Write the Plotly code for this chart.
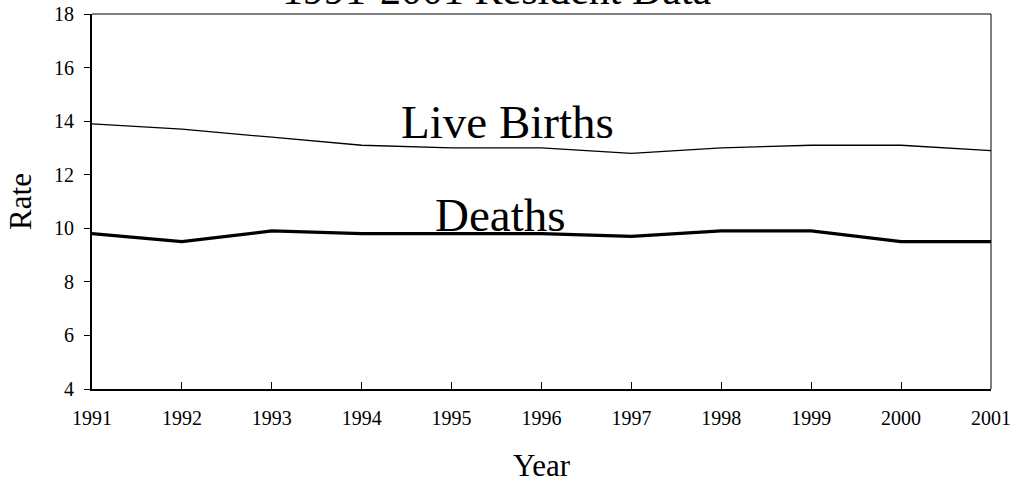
import plotly.graph_objects as go

years = [1991, 1992, 1993, 1994, 1995, 1996, 1997, 1998, 1999, 2000, 2001]
live_births = [13.9, 13.7, 13.4, 13.1, 13.0, 13.0, 12.8, 13.0, 13.1, 13.1, 12.9]
deaths = [9.8, 9.5, 9.9, 9.8, 9.8, 9.8, 9.7, 9.9, 9.9, 9.5, 9.5]
y_ticks = [4, 6, 8, 10, 12, 14, 16, 18]

FONT = "Liberation Serif, Times New Roman, serif"

fig = go.Figure()
fig.add_trace(go.Scatter(x=years, y=live_births, mode="lines", name="Live Births",
                         line=dict(color="black", width=1.3)))
fig.add_trace(go.Scatter(x=years, y=deaths, mode="lines", name="Deaths",
                         line=dict(color="black", width=3.2)))

fig.update_layout(
    width=1016, height=483,
    margin=dict(l=92, r=25, t=14, b=94, autoexpand=False),
    paper_bgcolor="white", plot_bgcolor="white",
    showlegend=False,
    font=dict(family=FONT, color="black", size=20),
    xaxis=dict(
        range=[1991, 2001], tickvals=years, ticktext=[str(y) for y in years],
        showgrid=False, zeroline=False, automargin=False,
        showline=True, linecolor="black", linewidth=2,
        ticks="inside", ticklen=7, tickwidth=1, tickcolor="black",
        tickfont=dict(family=FONT, size=20, color="black"),
        ticklabelstandoff=10,
        title=dict(text="Year", font=dict(family=FONT, size=31, color="black"), standoff=27),
    ),
    yaxis=dict(
        range=[4, 18], tickvals=y_ticks,
        showgrid=False, zeroline=False, automargin=False,
        showline=True, linecolor="black", linewidth=2,
        ticks="outside", ticklen=6, tickwidth=1, tickcolor="black",
        tickfont=dict(family=FONT, size=20, color="black"),
        ticklabelstandoff=6,
        title=dict(text="Rate", font=dict(family=FONT, size=31, color="black"), standoff=13),
    ),
)

# thin top and right borders
fig.add_shape(type="line", xref="paper", yref="paper", x0=0, x1=1, y0=1, y1=1,
              line=dict(color="black", width=1))
fig.add_shape(type="line", xref="paper", yref="paper", x0=1, x1=1, y0=0, y1=1,
              line=dict(color="black", width=1))

fig.add_annotation(text="Live Births", x=1995.62, y=13.96, xref="x", yref="y",
                   showarrow=False, xanchor="center", yanchor="middle",
                   font=dict(family=FONT, size=47, color="black"))
fig.add_annotation(text="Deaths", x=1995.54, y=10.5, xref="x", yref="y",
                   showarrow=False, xanchor="center", yanchor="middle",
                   font=dict(family=FONT, size=47, color="black"))
fig.add_annotation(text="1991-2001 Resident Data", x=0.451, y=1.065, xref="paper", yref="paper",
                   showarrow=False, xanchor="center", yanchor="middle",
                   font=dict(family=FONT, size=42, color="black"))

fig.write_html(
    "out.html",
    config={"displayModeBar": False},
    post_script="document.body.style.margin='0';document.body.style.overflow='hidden';",
)
